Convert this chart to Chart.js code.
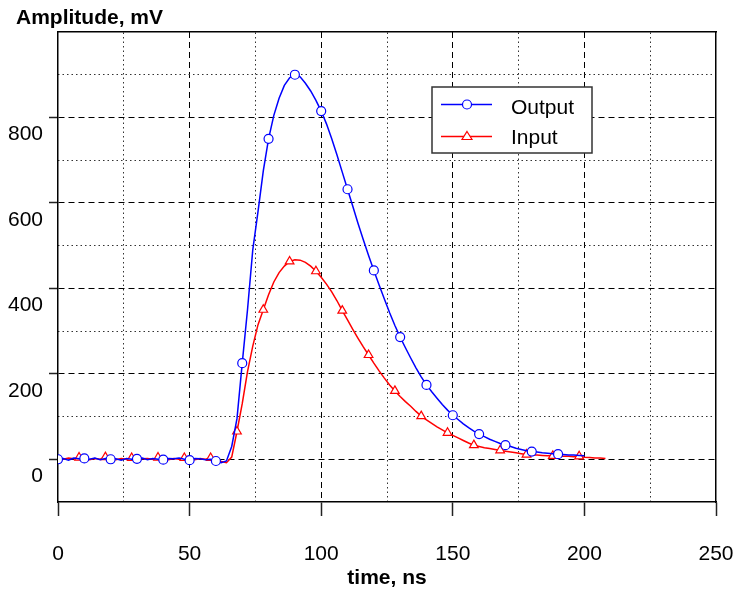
<!DOCTYPE html>
<html>
<head>
<meta charset="utf-8">
<script src="https://cdn.jsdelivr.net/npm/chart.js@4.4.1/dist/chart.umd.min.js"></script>
<style>
html,body{margin:0;padding:0;background:#fff;}
#wrap{width:737px;height:590px;position:relative;}
</style>
</head>
<body>
<div id="wrap"><canvas id="c" width="737" height="590"></canvas></div>
<script>
// time samples (ns)
const times = [0,2,4,6,8,10,12,14,16,18,20,22,24,26,28,30,32,34,36,38,40,42,44,46,48,50,52,54,56,58,60,62,64,66,68,70,72,74,76,78,80,82,84,86,88,90,92,94,96,98,100,102,104,106,108,110,112,114,116,118,120,122,124,126,128,130,132,134,136,138,140,142,144,146,148,150,152,154,156,158,160,162,164,166,168,170,172,174,176,178,180,182,184,186,188,190,192,194,196,198,200,202,204,206,208];
// Output amplitude (mV), 0..200 ns
const outputValues = [0,2,-2,3,1,2,0,3,-1,2,0,1,-2,2,0,1,3,-1,2,0,-1,2,1,3,0,-2,2,1,-1,0,-4,-8,-4,30,95,225,350,490,580,675,750,805,845,875,893,900,895,880,862,840,815,785,750,712,672,632,592,552,514,477,442,408,375,343,313,286,261,237,214,193,174,158,143,128,115,103,93,83,74,66,59,53,47,42,37,33,30,26,23,20,18,17,15,14,13,12,11,10,10,9,8];
// Input amplitude (mV), 0..208 ns
const inputValues = [2,0,3,1,4,1,-1,2,0,5,1,-1,2,0,3,-1,1,2,0,4,1,-1,2,0,3,1,-1,2,0,3,-2,-5,-8,5,65,130,205,265,315,350,385,415,437,452,463,467,466,461,452,440,426,410,392,371,348,326,304,283,263,244,225,207,190,174,160,147,135,124,112,101,92,84,76,69,62,56,50,44,38,33,30,27,25,23,21,19,17,15,13,11,10,10,9,8,8,7,7,7,6,7,5,4,3,3,2];
// marker positions (ns)
const outputMarkerTimes = [0,10,20,30,40,50,60,70,80,90,100,110,120,130,140,150,160,170,180,190];
const inputMarkerTimes = [8,18,28,38,48,58,68,78,88,98,108,118,128,138,148,158,168,178,188,198];
// axis ticks
const xMajorTicks = [0,50,100,150,200,250];
const yTickValues = [0,200,400,600,800];
const seriesNames = ['Output','Input'];

const FONT = "'Liberation Sans', Arial, sans-serif";
const outputData = outputValues.map((v,i)=>({x:times[i], y:v}));
const inputData = inputValues.map((v,i)=>({x:times[i], y:v}));

const extraText = {
  id:'extraText',
  afterDraw(chart){
    const ctx = chart.ctx;
    ctx.save();
    ctx.fillStyle = '#000';
    ctx.font = "bold 21px " + FONT;
    ctx.textAlign = 'left';
    ctx.textBaseline = 'alphabetic';
    ctx.fillText('Amplitude, mV', 16, 24);
    // legend
    const bx = 432, by = 87, bw = 160, bh = 66;
    ctx.fillStyle = '#fff';
    ctx.fillRect(bx, by, bw, bh);
    ctx.strokeStyle = '#333';
    ctx.lineWidth = 1.5;
    ctx.strokeRect(bx, by, bw, bh);
    const rows = [
      {y:104.5, color:'#0000ff', style:'circle'},
      {y:136.5, color:'#ff0000', style:'triangle'}
    ];
    rows.forEach((r, i) => {
      ctx.strokeStyle = r.color;
      ctx.lineWidth = 1.5;
      ctx.beginPath(); ctx.moveTo(441, r.y); ctx.lineTo(492, r.y); ctx.stroke();
      ctx.fillStyle = '#fff';
      ctx.beginPath();
      if (r.style === 'circle') {
        ctx.arc(467, r.y, 4.5, 0, Math.PI*2);
      } else {
        ctx.moveTo(467, r.y-5); ctx.lineTo(472, r.y+3); ctx.lineTo(462, r.y+3); ctx.closePath();
      }
      ctx.fill(); ctx.lineWidth = 1.2; ctx.stroke();
      ctx.fillStyle = '#000';
      ctx.font = "21px " + FONT;
      ctx.textBaseline = 'middle';
      ctx.fillText(seriesNames[i], 511, i === 0 ? 108 : 138);
    });
    ctx.restore();
  }
};

new Chart(document.getElementById('c'), {
  type:'line',
  data:{
    datasets:[
      {label:seriesNames[0], data:outputData, borderColor:'#0000ff', borderWidth:1.5, backgroundColor:'#fff',
       pointStyle:'circle', pointBorderColor:'#0000ff', pointBackgroundColor:'#fff', pointBorderWidth:1.2,
       pointRadius: c => outputMarkerTimes.includes(c.raw && c.raw.x) ? 4.5 : 0,
       tension:0, xAxisID:'x', yAxisID:'y'},
      {label:seriesNames[1], data:inputData, borderColor:'#ff0000', borderWidth:1.5, backgroundColor:'#fff',
       pointStyle:'triangle', pointBorderColor:'#ff0000', pointBackgroundColor:'#fff', pointBorderWidth:1.2,
       pointRadius: c => inputMarkerTimes.includes(c.raw && c.raw.x) ? 5 : 0,
       tension:0, xAxisID:'x', yAxisID:'y'}
    ]
  },
  options:{
    responsive:false,
    animation:false,
    layout:{padding:{top:32, right:21, left:0, bottom:0}},
    plugins:{legend:{display:false}, tooltip:{enabled:false}},
    scales:{
      x:{type:'linear', position:'bottom', min:0, max:250,
         afterBuildTicks: s => { s.ticks = xMajorTicks.map(v=>({value:v})); },
         ticks:{font:{family:FONT, size:21}, color:'#000', padding:26, maxRotation:0, autoSkip:false},
         grid:{color: c => (c.tick && (c.tick.value===0 || c.tick.value===250)) ? 'rgba(0,0,0,0)' : '#000',
               lineWidth:1, tickLength:14, tickColor:'#222', tickWidth:1.5},
         border:{display:true, color:'#000', width:1.5, dash:[6,4]},
         title:{display:true, text:'time, ns', color:'#000', font:{family:FONT, size:21, weight:'bold'}, padding:{top:0, bottom:-1}},
         afterFit: s => { s.height = 88; s.paddingLeft = 0; s.paddingRight = 0; }
      },
      x2:{type:'linear', position:'top', min:0, max:250,
         ticks:{stepSize:25, display:false},
         grid:{color: c => (c.tick && c.tick.value % 50 === 0) ? 'rgba(0,0,0,0)' : '#333', lineWidth:1, drawTicks:false},
         border:{display:true, color:'#000', width:1.5, dash:[1.5,3]},
         afterFit: s => { s.height = 0; s.paddingLeft = 0; s.paddingRight = 0; }
      },
      y:{type:'linear', position:'left', min:-100, max:1000,
         afterBuildTicks: s => { s.ticks = yTickValues.map(v=>({value:v})); },
         ticks:{font:{family:FONT, size:21}, color:'#000', padding:6, labelOffset:17, autoSkip:false},
         grid:{color:'#000', lineWidth:1, tickLength:9, tickColor:'#222', tickWidth:1.5},
         border:{display:true, color:'#000', width:1.5, dash:[6,4]},
         afterFit: s => { s.width = 58; s.paddingTop = 0; s.paddingBottom = 0; }
      },
      y2:{type:'linear', position:'right', min:-100, max:1000,
         ticks:{stepSize:100, display:false},
         grid:{color: c => (c.tick && (c.tick.value % 200 === 0 || c.tick.value===-100 || c.tick.value===1000)) ? 'rgba(0,0,0,0)' : '#333', lineWidth:1, drawTicks:false},
         border:{display:true, color:'#000', width:1.5, dash:[1.5,3]},
         afterFit: s => { s.width = 0; s.paddingTop = 0; s.paddingBottom = 0; }
      }
    }
  },
  plugins:[extraText]
});
</script>
</body>
</html>
